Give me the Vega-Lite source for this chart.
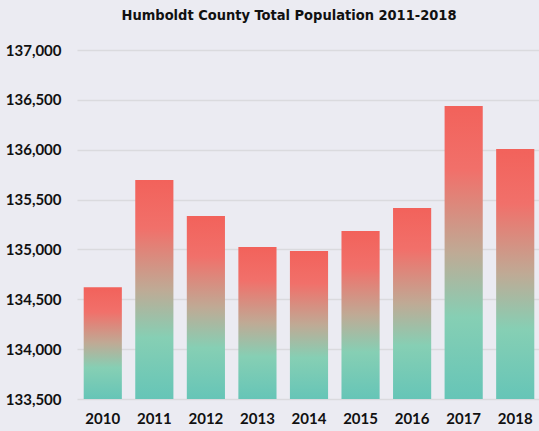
{
  "$schema": "https://vega.github.io/schema/vega-lite/v6.json",
  "autosize": "none",
  "width": 464,
  "height": 349,
  "padding": {"left": 77, "top": 50, "right": 0, "bottom": 32},
  "background": "#ebebf2",
  "title": {
    "text": "Humboldt County Total Population 2011-2018",
    "font": "DejaVu Sans Condensed",
    "fontWeight": "bold",
    "fontSize": 14.5,
    "color": "#111111",
    "anchor": "middle",
    "dx": -20,
    "offset": 20
  },
  "config": {
    "view": {"stroke": null},
    "axis": {"labelFont": "Lato", "labelFontWeight": "bold", "labelFontSize": 15, "labelColor": "#111111"}
  },
  "data": {
    "values": [
      {"year": "2010", "pop": 134620},
      {"year": "2011", "pop": 135696},
      {"year": "2012", "pop": 135335},
      {"year": "2013", "pop": 135025},
      {"year": "2014", "pop": 134984},
      {"year": "2015", "pop": 135185},
      {"year": "2016", "pop": 135416},
      {"year": "2017", "pop": 136439},
      {"year": "2018", "pop": 136008}
    ]
  },
  "mark": {
    "type": "bar",
    "color": {
      "gradient": "linear",
      "x1": 0, "y1": 0, "x2": 0, "y2": 1,
      "stops": [
        {"offset": 0, "color": "#f2625b"},
        {"offset": 0.22, "color": "#f1706a"},
        {"offset": 0.5, "color": "#bfaa95"},
        {"offset": 0.72, "color": "#86cfb4"},
        {"offset": 1, "color": "#66c5b7"}
      ]
    }
  },
  "encoding": {
    "x": {
      "field": "year",
      "type": "ordinal",
      "title": null,
      "scale": {"paddingInner": 0.26, "paddingOuter": 0.13},
      "axis": {"labelAngle": 0, "domain": false, "ticks": false, "labelPadding": 12}
    },
    "y": {
      "field": "pop",
      "type": "quantitative",
      "title": null,
      "scale": {"domain": [133500, 137000], "zero": false, "clamp": true},
      "axis": {
        "values": [133500, 134000, 134500, 135000, 135500, 136000, 136500, 137000],
        "format": ",d",
        "domain": false,
        "ticks": false,
        "labelPadding": 16,
        "gridColor": "#dadade",
        "gridWidth": 1.5
      }
    }
  }
}
